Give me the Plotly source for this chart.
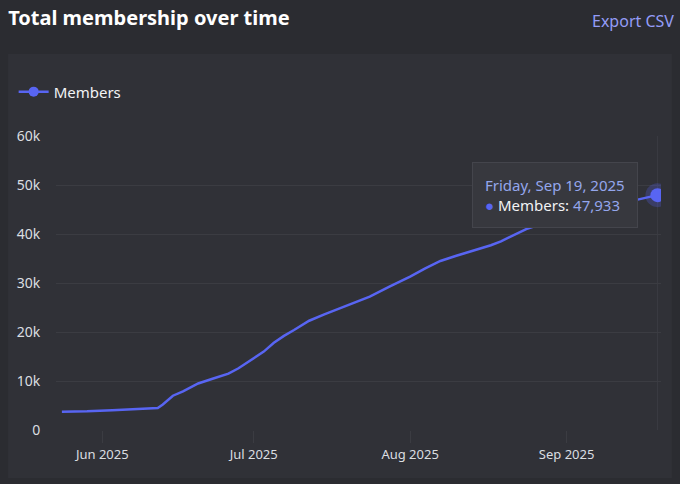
import pandas as pd
import plotly.graph_objects as go

# membership counts
dates = [
    "2025-05-24", "2025-05-29", "2025-06-03", "2025-06-08", "2025-06-11",
    "2025-06-12", "2025-06-13", "2025-06-14", "2025-06-15", "2025-06-17",
    "2025-06-20", "2025-06-23", "2025-06-26", "2025-06-28", "2025-06-30",
    "2025-07-03", "2025-07-05", "2025-07-07", "2025-07-09", "2025-07-12",
    "2025-07-15", "2025-07-18", "2025-07-21", "2025-07-24", "2025-07-28",
    "2025-08-01", "2025-08-04", "2025-08-07", "2025-08-10", "2025-08-13",
    "2025-08-17", "2025-08-19", "2025-08-22", "2025-08-24", "2025-08-28",
    "2025-09-02", "2025-09-07", "2025-09-12", "2025-09-16", "2025-09-19",
]
members = [
    3750, 3820, 4050, 4250, 4400,
    4500, 5200, 6100, 7000, 7900,
    9500, 10500, 11500, 12600, 13900,
    16000, 17800, 19200, 20400, 22300,
    23600, 24850, 26000, 27200, 29300,
    31300, 33000, 34500, 35500, 36400,
    37700, 38500, 40000, 41000, 42400,
    43800, 45100, 46300, 47300, 47933,
]
x_range = ["2025-05-22 20:00", "2025-09-19 17:00"]
y_ticks = [0, 10000, 20000, 30000, 40000, 50000, 60000]

BG = "#2b2c31"
PANEL = "#303137"
GRID = "#3b3c42"
LINE = "#5865f2"
TEXT = "#dbdee1"
ACCENT = "#94a6ec"
FONT = "Noto Sans"

last_date, last_val = dates[-1], members[-1]

fig = go.Figure()
fig.add_trace(go.Scatter(
    x=dates, y=members, name="Members", mode="lines", showlegend=False,
    line=dict(color=LINE, width=2.5), hoverinfo="skip",
))
# legend entry only (line + dot symbol)
fig.add_trace(go.Scatter(
    x=[None], y=[None], name="Members", mode="lines+markers",
    line=dict(color=LINE, width=2.5), marker=dict(size=10, color=LINE),
))
# highlighted end point with a soft halo
fig.add_trace(go.Scatter(
    x=[last_date], y=[last_val], mode="markers", showlegend=False,
    marker=dict(size=24, color=LINE, opacity=0.25), hoverinfo="skip",
))
fig.add_trace(go.Scatter(
    x=[last_date], y=[last_val], mode="markers", showlegend=False,
    marker=dict(size=14, color=LINE), hoverinfo="skip",
))

label = pd.Timestamp(last_date).strftime("%A, %b %d, %Y")
tip = (f"<span style='color:{ACCENT}'>{label}</span><br>"
       f"<span style='color:{LINE}'>●</span> Members: "
       f"<span style='color:{ACCENT}'>{last_val:,}</span>")

fig.update_layout(
    width=680, height=484,
    margin=dict(l=56, r=19, t=136, b=54),
    paper_bgcolor=BG, plot_bgcolor="rgba(0,0,0,0)",
    font=dict(family=FONT, color=TEXT, size=13),
    hovermode=False,
    title=dict(text="<b>Total membership over time</b>", xref="container", yref="container",
               x=0.012, y=0.963, xanchor="left", yanchor="middle",
               font=dict(size=20, color="#ffffff", family=FONT)),
    showlegend=True,
    legend=dict(x=-0.07, y=1.15, xanchor="left", yanchor="middle",
                font=dict(size=15, color="#f2f3f5"), bgcolor="rgba(0,0,0,0)"),
    xaxis=dict(range=x_range, showgrid=False, zeroline=False, showline=False,
               ticks="outside", ticklen=12, tickcolor=GRID,
               dtick="M1", tick0="2025-06-01", tickformat="%b %Y",
               tickfont=dict(size=13, color=TEXT)),
    yaxis=dict(range=[0, 60000], tickvals=y_ticks, tickformat="~s",
               showgrid=True, gridcolor=GRID, zeroline=False, showline=False,
               ticks="outside", ticklen=12, tickcolor="rgba(0,0,0,0)",
               tickfont=dict(size=14, color=TEXT)),
    shapes=[
        dict(type="rect", xref="paper", yref="paper", x0=-0.0793, x1=1.018,
             y0=-0.163, y1=1.279, fillcolor=PANEL, line=dict(width=0), layer="below"),
        dict(type="line", xref="x", yref="paper", x0=last_date, x1=last_date,
             y0=0, y1=1, line=dict(color=GRID, width=1), layer="below"),
    ],
    annotations=[
        dict(text="Export CSV", xref="paper", yref="paper", x=1.025, y=1.391,
             xanchor="right", yanchor="middle", showarrow=False,
             font=dict(size=16, color="#949cf7")),
        dict(text=tip, xref="x", yref="y", x=last_date, y=last_val,
             xanchor="right", yanchor="middle", xshift=-19, showarrow=False,
             align="left", bgcolor="#37383e", bordercolor="#44454c", borderwidth=1,
             borderpad=12, font=dict(size=15, color="#f2f3f5")),
    ],
)

fig.write_html("out.html", config={"displayModeBar": False},
               post_script=f"document.body.style.margin='0';"
               f"document.body.style.background='{BG}';")
